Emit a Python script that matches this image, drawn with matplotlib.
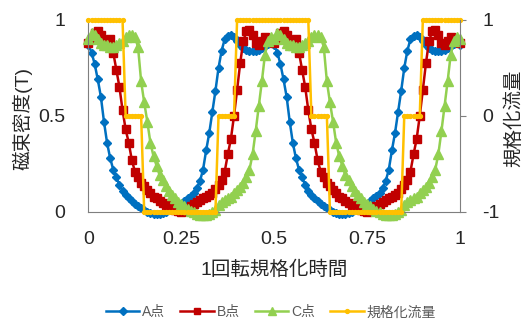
import matplotlib
matplotlib.use('Agg')
import matplotlib.pyplot as plt
from matplotlib.lines import Line2D
import numpy as np

plt.rcParams['font.family'] = ['Liberation Sans', 'Noto Sans CJK JP', 'DejaVu Sans']

# normalised time over one rotation, 120 steps
t = np.linspace(0, 1, 121)

# flux density at point A (T)
b_a = [0.87, 0.83, 0.77, 0.69, 0.60, 0.47, 0.36, 0.28, 0.22, 0.18,
       0.14, 0.11, 0.09, 0.07, 0.055, 0.04, 0.03, 0.02, 0.01, 0.0,
       -0.005, -0.01, -0.01, -0.01, -0.005, 0.0, 0.01, 0.015, 0.025, 0.03,
       0.04, 0.055, 0.07, 0.085, 0.10, 0.125, 0.16, 0.22, 0.32, 0.41,
       0.52, 0.63, 0.75, 0.84, 0.90, 0.915, 0.92, 0.91, 0.89, 0.87,
       0.855, 0.845, 0.84, 0.84, 0.84, 0.845, 0.855, 0.865, 0.875, 0.88,
       0.87, 0.83, 0.77, 0.69, 0.60, 0.47, 0.36, 0.28, 0.22, 0.18,
       0.14, 0.11, 0.09, 0.07, 0.055, 0.04, 0.03, 0.02, 0.01, 0.0,
       -0.005, -0.01, -0.01, -0.01, -0.005, 0.0, 0.01, 0.015, 0.025, 0.03,
       0.04, 0.055, 0.07, 0.085, 0.10, 0.125, 0.16, 0.22, 0.32, 0.41,
       0.52, 0.63, 0.75, 0.84, 0.90, 0.915, 0.92, 0.91, 0.89, 0.87,
       0.855, 0.845, 0.84, 0.84, 0.84, 0.845, 0.855, 0.865, 0.875, 0.88,
       0.87]

# flux density at point B (T)
b_b = [0.88, 0.90, 0.93, 0.94, 0.92, 0.88, 0.89, 0.90, 0.83, 0.74,
       0.65, 0.53, 0.43, 0.36, 0.27, 0.21, 0.18, 0.15, 0.135, 0.115,
       0.10, 0.08, 0.07, 0.055, 0.045, 0.035, 0.03, 0.02, 0.01, 0.005,
       0.0, 0.005, 0.015, 0.03, 0.04, 0.05, 0.06, 0.07, 0.08, 0.09,
       0.10, 0.12, 0.14, 0.165, 0.21, 0.30, 0.38, 0.50, 0.635, 0.775,
       0.89, 0.94, 0.95, 0.92, 0.88, 0.87, 0.89, 0.91, 0.90, 0.89,
       0.88, 0.90, 0.93, 0.94, 0.92, 0.88, 0.89, 0.90, 0.83, 0.74,
       0.65, 0.53, 0.43, 0.36, 0.27, 0.21, 0.18, 0.15, 0.135, 0.115,
       0.10, 0.08, 0.07, 0.055, 0.045, 0.035, 0.03, 0.02, 0.01, 0.005,
       0.0, 0.005, 0.015, 0.03, 0.04, 0.05, 0.06, 0.07, 0.08, 0.09,
       0.10, 0.12, 0.14, 0.165, 0.21, 0.30, 0.38, 0.50, 0.635, 0.775,
       0.89, 0.94, 0.95, 0.92, 0.88, 0.87, 0.89, 0.91, 0.90, 0.89,
       0.88]

# flux density at point C (T)
b_c = [0.90, 0.93, 0.92, 0.90, 0.88, 0.87, 0.87, 0.86, 0.86, 0.87,
       0.88, 0.89, 0.91, 0.92, 0.92, 0.91, 0.86, 0.68, 0.57, 0.47,
       0.36, 0.29, 0.24, 0.19, 0.165, 0.135, 0.11, 0.09, 0.07, 0.05,
       0.04, 0.03, 0.015, 0.005, 0.0, -0.01, -0.015, -0.015, -0.015, -0.01,
       0.0, 0.01, 0.035, 0.05, 0.06, 0.07, 0.08, 0.10, 0.115, 0.13,
       0.15, 0.18, 0.22, 0.30, 0.42, 0.55, 0.68, 0.82, 0.89, 0.91,
       0.90, 0.93, 0.92, 0.90, 0.88, 0.87, 0.87, 0.86, 0.86, 0.87,
       0.88, 0.89, 0.91, 0.92, 0.92, 0.91, 0.86, 0.68, 0.57, 0.47,
       0.36, 0.29, 0.24, 0.19, 0.165, 0.135, 0.11, 0.09, 0.07, 0.05,
       0.04, 0.03, 0.015, 0.005, 0.0, -0.01, -0.015, -0.015, -0.015, -0.01,
       0.0, 0.01, 0.035, 0.05, 0.06, 0.07, 0.08, 0.10, 0.115, 0.13,
       0.15, 0.18, 0.22, 0.30, 0.42, 0.55, 0.68, 0.82, 0.89, 0.91,
       0.90]

# normalised flux linkage (six-step)
flux = ([1] * 12 + [0] * 6 + [-1] * 24 + [0] * 6 + [1] * 12) * 2 + [1]

series_labels = ['A点', 'B点', 'C点', '規格化流量']
colors = ['#0070C0', '#C00000', '#92D050', '#FFC000']
xticks = [0, 0.25, 0.5, 0.75, 1]
xtick_labels = ['0', '0.25', '0.5', '0.75', '1']

fig = plt.figure(figsize=(5.28, 3.22), dpi=100)
ax = fig.add_axes([0.1676, 0.342, 0.7036, 0.596])

ax.plot(t, b_a, color=colors[0], marker='D', ms=4.5, lw=1.8, clip_on=False)
ax.plot(t, b_b, color=colors[1], marker='s', ms=6, lw=1.8, clip_on=False)
ax.plot(t, b_c, color=colors[2], marker='^', ms=6.5, lw=1.8, clip_on=False)

ax2 = ax.twinx()
ax2.plot(t, flux, color=colors[3], marker='o', ms=2.8, lw=1.8, clip_on=False)

ax.set_xlim(0, 1)
ax.set_ylim(0, 1)
ax2.set_ylim(-1, 1)
ax.set_xticks(xticks)
ax.set_xticklabels(xtick_labels)
ax.set_yticks([0, 0.5, 1])
ax.set_yticklabels(['0', '0.5', '1'])
ax2.set_yticks([-1, 0, 1])
ax2.set_yticklabels(['-1', '0', '1'])

spine_col = '#7f7f7f'
for a in (ax, ax2):
    a.spines['top'].set_visible(False)
    for s in a.spines.values():
        s.set_color(spine_col)
ax.spines['right'].set_visible(False)
ax2.spines['left'].set_visible(False)
ax2.spines['bottom'].set_visible(False)

ax.tick_params(axis='both', length=0, labelsize=14, colors='#262626', pad=14)
ax.tick_params(axis='y', pad=17)
ax2.tick_params(axis='y', length=4, direction='out', color=spine_col,
                labelsize=14, labelcolor='#262626', pad=12)

fig.text(274 / 528, 1 - 270 / 322, '1回転規格化時間', ha='center', va='center',
         fontsize=14, color='#262626')
fig.text(22 / 528, 1 - 118 / 322, '磁束密度(T)', ha='center', va='center',
         rotation=90, fontsize=14, color='#262626')
fig.text(514 / 528, 1 - 118 / 322, '規格化流量', ha='center', va='center',
         rotation=90, fontsize=14, color='#262626')

handles = [
    Line2D([], [], color=colors[0], marker='D', ms=4, lw=1.8),
    Line2D([], [], color=colors[1], marker='s', ms=5, lw=1.8),
    Line2D([], [], color=colors[2], marker='^', ms=5.5, lw=1.8),
    Line2D([], [], color=colors[3], marker='o', ms=2.8, lw=1.8),
]
fig.legend(handles, series_labels, loc='center', bbox_to_anchor=(0.513, 0.03),
           ncol=4, frameon=False, fontsize=10, handlelength=2.4,
           handletextpad=0.2, columnspacing=1.1, labelcolor='#595959')

fig.savefig('out.png', dpi=100)
